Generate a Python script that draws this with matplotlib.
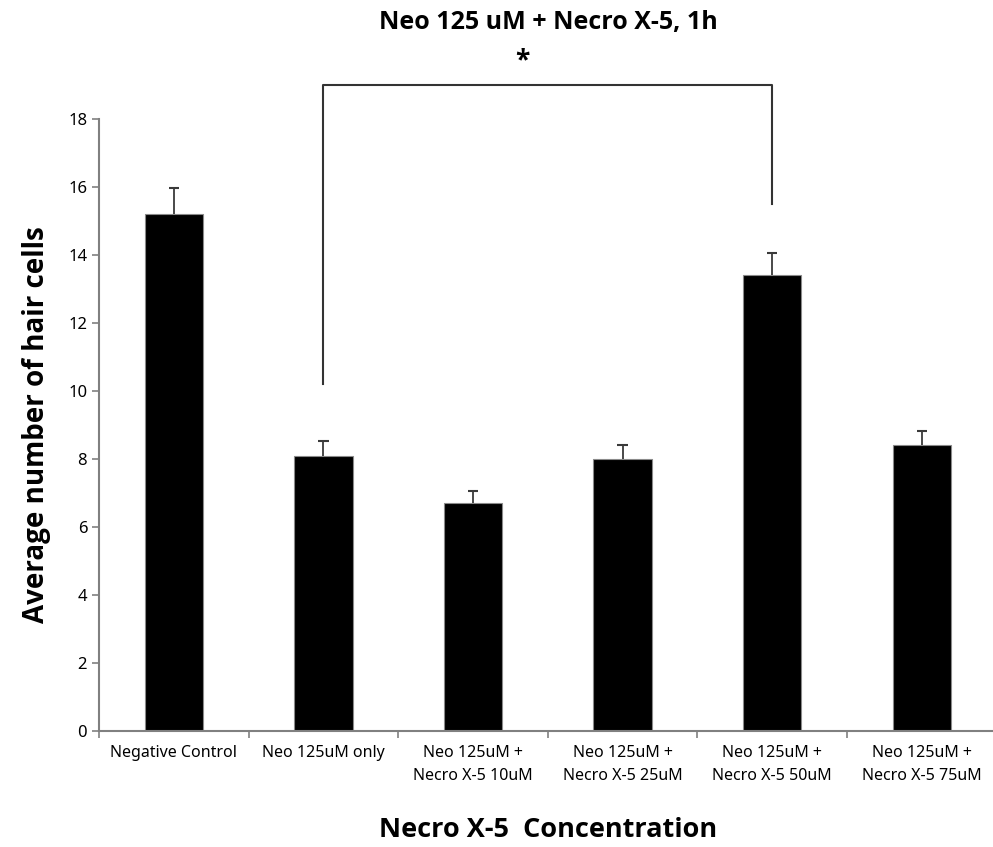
import matplotlib.pyplot as plt
import numpy as np

plt.rcParams["font.family"] = ["Noto Sans", "DejaVu Sans"]

## Data
categories = [
    "Negative Control",
    "Neo 125uM only",
    "Neo 125uM +\nNecro X-5 10uM",
    "Neo 125uM +\nNecro X-5 25uM",
    "Neo 125uM +\nNecro X-5 50uM",
    "Neo 125uM +\nNecro X-5 75uM",
]
means = [15.2, 8.1, 6.7, 8.0, 13.4, 8.4]
errors = [0.77, 0.43, 0.35, 0.42, 0.67, 0.43]
y_ticks = [0, 2, 4, 6, 8, 10, 12, 14, 16, 18]

# significance bracket between "Neo 125uM only" and "Necro X-5 50uM"
bracket_pair = (1, 4)
bracket_top = 19.0
bracket_legs = (10.2, 15.5)

bold_font = ["Open Sans", "DejaVu Sans"]

fig = plt.figure(figsize=(9.93, 8.47), dpi=100)
ax = fig.add_axes([0.0997, 0.137, 0.904, 0.7225])

x = np.arange(len(categories))
means = np.array(means)
errors = np.array(errors)
ax.bar(x, means, width=0.39, color="black", edgecolor="#8a8a8a", linewidth=0.8, zorder=2)

# upper-only error bars: stem + top cap
ax.vlines(x, means, means + errors, color="#3a3a3a", linewidth=1.3, zorder=3)
ax.hlines(means + errors, x - 0.035, x + 0.035, color="#3a3a3a", linewidth=1.5, zorder=3)

ax.set_xlim(-0.5, len(categories) - 0.5)
ax.set_ylim(0, 18)
ax.set_yticks(y_ticks)
ax.tick_params(axis="y", labelsize=12, length=5, color="#808080", width=1.2)

ax.set_xticks(x)
ax.set_xticklabels(categories, fontsize=11.5, linespacing=1.6)
ax.tick_params(axis="x", which="major", length=0, pad=10)
ax.set_xticks(np.arange(len(categories) + 1) - 0.5, minor=True)
ax.tick_params(axis="x", which="minor", length=5, color="#808080", width=1.2)

for side in ["top", "right"]:
    ax.spines[side].set_visible(False)
for side in ["left", "bottom"]:
    ax.spines[side].set_color("#808080")
    ax.spines[side].set_linewidth(1.5)

# bracket + star
a, b = bracket_pair
ax.plot([a, a, b, b], [bracket_legs[0], bracket_top, bracket_top, bracket_legs[1]],
        color="#333333", linewidth=1.5, clip_on=False)
ax.text((a + b) / 2 - 0.17, bracket_top + 0.3, "*", ha="center", va="bottom",
        fontsize=19, fontweight="bold", family=bold_font)

fig.text(0.552, 0.973, "Neo 125 uM + Necro X-5, 1h", ha="center", va="center",
         fontsize=18, fontweight="bold", family=bold_font)
ax.set_ylabel("Average number of hair cells", fontsize=20, fontweight="bold",
              family=bold_font, labelpad=12)
fig.text(0.552, 0.02, "Necro X-5  Concentration", ha="center", va="center",
         fontsize=19.5, fontweight="bold", family=bold_font)

fig.savefig("out.png", dpi=100)
